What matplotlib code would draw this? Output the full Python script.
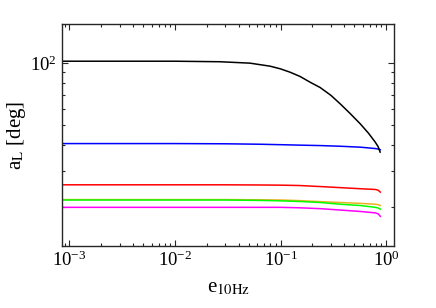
import numpy as np
import matplotlib
matplotlib.use("Agg")
import matplotlib.pyplot as plt
from matplotlib.ticker import LogLocator, NullFormatter

plt.rcParams["font.family"] = ["Liberation Serif", "DejaVu Serif"]
plt.rcParams["mathtext.fontset"] = "stix"

# eccentricity grid for the black curve (finer, it bends the most)
e_black = [8.5e-4, 1e-3, 1e-2, 2.67e-2, 5.14e-2, 7.95e-2, 0.1, 0.123, 0.153,
           0.19, 0.237, 0.3, 0.366, 0.45, 0.567, 0.68, 0.787, 0.84, 0.877]
a_black = [102.0, 102.0, 102.0, 101.4, 99.8, 96.5, 93.6, 90.2, 86.0,
           80.7, 76.0, 69.6, 63.4, 57.2, 50.7, 45.6, 41.3, 39.2, 36.9]

# eccentricity grid shared by the other curves
e10 = [8.5e-4, 1e-3, 1e-2, 3e-2, 6.4e-2, 0.1, 0.15, 0.24, 0.37, 0.57, 0.79, 0.84, 0.88]
a_blue = [40.6, 40.6, 40.6, 40.5, 40.3, 40.1, 39.9, 39.7, 39.4, 39.0, 38.4, 38.2, 37.9]
a_red = [25.6, 25.6, 25.6, 25.6, 25.55, 25.5, 25.4, 25.1, 24.8, 24.5, 24.3, 24.1, 23.6]
a_orange = [21.7, 21.7, 21.7, 21.7, 21.65, 21.6, 21.45, 21.2, 21.0, 20.8, 20.6, 20.5, 20.3]
a_green = [21.6, 21.6, 21.6, 21.6, 21.5, 21.4, 21.25, 21.0, 20.6, 20.3, 19.9, 19.75, 19.5]
a_magenta = [19.9, 19.9, 19.9, 19.9, 19.9, 19.9, 19.8, 19.6, 19.3, 19.0, 18.7, 18.5, 18.0]

series = [
    (e10, a_blue, "#0000ff"),
    (e10, a_red, "#ff0000"),
    (e10, a_orange, "#edb120"),
    (e10, a_green, "#00ff00"),
    (e10, a_magenta, "#ff00ff"),
    (e_black, a_black, "black"),
]

fig = plt.figure(figsize=(4.36, 3.08), dpi=100)
ax = fig.add_axes([0.142, 0.201, 0.762, 0.721])

for xs, vals, col in series:
    ax.plot(xs, vals, color=col, lw=1.1)

ax.set_xscale("log")
ax.set_yscale("log")
ax.set_xlim(8.5e-4, 1.19)
ax.set_ylim(12.9, 154.6)

ax.xaxis.set_major_locator(LogLocator(base=10, numticks=10))
ax.xaxis.set_minor_locator(LogLocator(base=10, subs=np.arange(2, 10), numticks=10))
ax.xaxis.set_minor_formatter(NullFormatter())
ax.yaxis.set_major_locator(LogLocator(base=10, numticks=10))
ax.yaxis.set_minor_locator(LogLocator(base=10, subs=np.arange(2, 10), numticks=10))
ax.yaxis.set_minor_formatter(NullFormatter())

ax.tick_params(which="both", direction="in", top=True, right=True, labelsize=13.5,
               color="#262626", width=0.8)
ax.tick_params(which="major", length=4)
ax.tick_params(which="minor", length=2.2)
for sp in ax.spines.values():
    sp.set_color("#262626")
    sp.set_linewidth(1.0)

ax.set_xlabel(r"e$_{\mathrm{10Hz}}$", fontsize=15, labelpad=6)
ax.set_ylabel(r"a$_{\mathrm{L}}$ [deg]", fontsize=15, labelpad=2)

fig.savefig("out.png", dpi=100)
